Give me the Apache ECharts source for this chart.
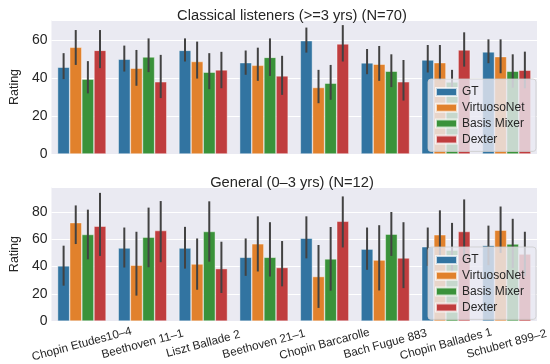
<!DOCTYPE html>
<html>
<head>
<meta charset="utf-8">
<script src="https://cdn.jsdelivr.net/npm/echarts@6/dist/echarts.min.js"></script>
<style>html,body{margin:0;padding:0;background:#fff;}#c{width:550px;height:364px;}</style>
</head>
<body>
<div id="c"></div>
<script>
const categories = ["Chopin Etudes10–4","Beethoven 11–1","Liszt Ballade 2","Beethoven 21–1","Chopin Barcarolle","Bach Fugue 883","Chopin Ballades 1","Schubert 899–2"];
const seriesNames = ["GT","VirtuosoNet","Basis Mixer","Dexter"];
const topTitle = "Classical listeners (>=3 yrs) (N=70)";
const bottomTitle = "General (0–3 yrs) (N=12)";
const topTicks = [0, 20, 40, 60];
const bottomTicks = [0, 20, 40, 60, 80];

// Classical listeners: means and CI bounds
const gtC    = [45.8, 50.0, 54.7, 48.2, 59.8, 48.1, 49.6, 53.9];
const gtCLo  = [39.5, 43.5, 48.8, 41.8, 53.5, 42.1, 43.0, 47.9];
const gtCHi  = [53.2, 57.2, 61.0, 54.6, 66.7, 55.4, 57.5, 60.5];
const vnC    = [56.3, 45.3, 48.8, 46.8, 35.1, 47.4, 48.2, 51.4];
const vnCLo  = [47.0, 36.0, 39.8, 38.6, 26.8, 38.6, 39.0, 42.6];
const vnCHi  = [65.4, 54.9, 59.3, 56.1, 44.4, 57.0, 57.5, 60.5];
const bmC    = [39.5, 51.2, 43.2, 51.0, 37.4, 43.7, 38.0, 43.7];
const bmCLo  = [32.0, 43.2, 34.2, 41.2, 28.6, 35.3, 30.5, 35.0];
const bmCHi  = [49.0, 61.0, 53.2, 61.0, 47.0, 52.6, 44.4, 52.6];
const dxC    = [54.7, 38.1, 44.4, 41.2, 58.1, 38.1, 54.9, 44.2];
const dxCLo  = [45.3, 29.5, 34.7, 31.2, 48.8, 28.2, 46.1, 34.7];
const dxCHi  = [65.4, 52.3, 53.9, 51.8, 68.0, 49.6, 64.2, 54.0];

// General listeners: means and CI bounds
const gtG    = [40.5, 53.6, 53.6, 46.8, 60.8, 52.8, 54.5, 55.5];
const gtGLo  = [26.0, 39.3, 38.5, 33.2, 46.0, 37.6, 40.5, 41.0];
const gtGHi  = [55.3, 68.6, 69.1, 60.6, 76.8, 68.6, 68.6, 70.0];
const vnG    = [72.2, 41.0, 41.9, 56.7, 32.7, 44.8, 63.3, 66.7];
const vnGLo  = [56.5, 18.7, 23.0, 36.4,  9.7, 22.5, 45.0, 50.0];
const vnGHi  = [84.8, 65.5, 60.6, 76.8, 55.8, 70.3, 81.2, 84.0];
const bmG    = [63.5, 61.6, 65.7, 46.8, 45.6, 63.8, 52.0, 56.5];
const bmGLo  = [45.3, 39.5, 43.6, 32.7, 22.3, 47.8, 33.0, 39.0];
const bmGHi  = [81.7, 83.2, 87.8, 72.5, 69.0, 80.0, 72.0, 75.0];
const dxG    = [69.6, 66.4, 38.5, 39.3, 73.2, 46.3, 65.7, 49.2];
const dxGLo  = [47.8, 43.2, 20.6, 25.5, 54.0, 24.2, 44.0, 33.0];
const dxGHi  = [94.0, 88.0, 58.2, 58.7, 91.4, 72.5, 89.2, 65.5];

const colors = ["#3274a1", "#e1812c", "#3a923a", "#c03d3e"];
const FONT = "Liberation Sans, Arial, sans-serif";

const panels = [
  {means:[gtC,vnC,bmC,dxC], los:[gtCLo,vnCLo,bmCLo,dxCLo], his:[gtCHi,vnCHi,bmCHi,dxCHi], max:70.7, ticks: topTicks},
  {means:[gtG,vnG,bmG,dxG], los:[gtGLo,vnGLo,bmGLo,dxGLo], his:[gtGHi,vnGHi,bmGHi,dxGHi], max:98.3, ticks: bottomTicks}
];

function errRender(k) {
  return function (params, api) {
    const x = api.value(0);
    const lo = api.coord([x, api.value(1)]);
    const hi = api.coord([x, api.value(2)]);
    const bw = api.size([1, 0])[0];
    const off = (-0.3 + 0.2 * k) * bw;
    return {
      type: 'line',
      shape: {x1: lo[0] + off, y1: lo[1], x2: hi[0] + off, y2: hi[1]},
      style: {stroke: '#424242', lineWidth: 2}
    };
  };
}

const grids = [
  {left: 35, right: 13, top: 20, height: 134},
  {left: 35, right: 13, top: 187, height: 135}
];
const xAxes = [], yAxes = [], series = [];
panels.forEach((p, gi) => {
  xAxes.push({
    type: 'category', gridIndex: gi, data: categories,
    axisLine: {show: false}, axisTick: {show: false},
    axisLabel: gi === 1 ? {
      show: true, rotate: 15, align: 'center', verticalAlign: 'middle', margin: 23,
      color: '#262626', fontSize: 11.7, fontFamily: FONT, interval: 0
    } : {show: false},
    splitLine: {show: false}
  });
  yAxes.push({
    type: 'value', gridIndex: gi, min: 0, max: p.max, interval: 20,
    name: 'Rating', nameLocation: 'middle', nameGap: 21,
    nameTextStyle: {color: '#262626', fontSize: 12.5, fontFamily: FONT},
    axisLine: {show: false}, axisTick: {show: false},
    axisLabel: {color: '#262626', fontSize: 14, fontFamily: FONT, margin: 4,
      formatter: v => (p.ticks.indexOf(v) >= 0 ? String(v) : '')},
    splitLine: {lineStyle: {color: '#ffffff', width: 1}}
  });
  seriesNames.forEach((nm, k) => {
    series.push({
      name: nm, type: 'bar', xAxisIndex: gi, yAxisIndex: gi,
      data: p.means[k], barGap: '0%', barCategoryGap: '20%',
      itemStyle: {color: colors[k], borderColor: 'rgba(255,255,255,0.7)', borderWidth: 0.6},
      z: 2, silent: true
    });
  });
  seriesNames.forEach((nm, k) => {
    series.push({
      name: 'err' + gi + k, type: 'custom', xAxisIndex: gi, yAxisIndex: gi,
      renderItem: errRender(k),
      encode: {x: 0, y: [1, 2]},
      data: categories.map((c, i) => [i, p.los[k][i], p.his[k][i]]),
      z: 3, silent: true
    });
  });
});

const legendBase = {
  data: seriesNames, orient: 'vertical', left: 428,
  icon: 'rect', itemWidth: 21, itemHeight: 8, itemGap: 1.8,
  padding: [6, 8, 5, 7],
  backgroundColor: 'rgba(234,234,242,0.8)',
  borderColor: 'rgba(204,204,204,0.8)', borderWidth: 1, borderRadius: 3,
  textStyle: {color: '#262626', fontSize: 12, fontFamily: FONT, lineHeight: 14, width: 66},
  selectedMode: false, z: 10
};

const chart = echarts.init(document.getElementById('c'), null, {renderer: 'canvas'});
chart.setOption({
  animation: false,
  backgroundColor: '#ffffff',
  title: [
    {text: topTitle, left: 287, top: 3, textAlign: 'center',
     textStyle: {color: '#262626', fontSize: 14.7, fontWeight: 'normal', fontFamily: FONT}},
    {text: bottomTitle, left: 287, top: 170, textAlign: 'center',
     textStyle: {color: '#262626', fontSize: 14.7, fontWeight: 'normal', fontFamily: FONT}}
  ],
  legend: [
    Object.assign({}, legendBase, {top: 79}),
    Object.assign({}, legendBase, {top: 247})
  ],
  grid: grids.map(g => Object.assign({backgroundColor: '#eaeaf2', show: true, borderWidth: 0}, g)),
  xAxis: xAxes,
  yAxis: yAxes,
  series: series
});
</script>
</body>
</html>
